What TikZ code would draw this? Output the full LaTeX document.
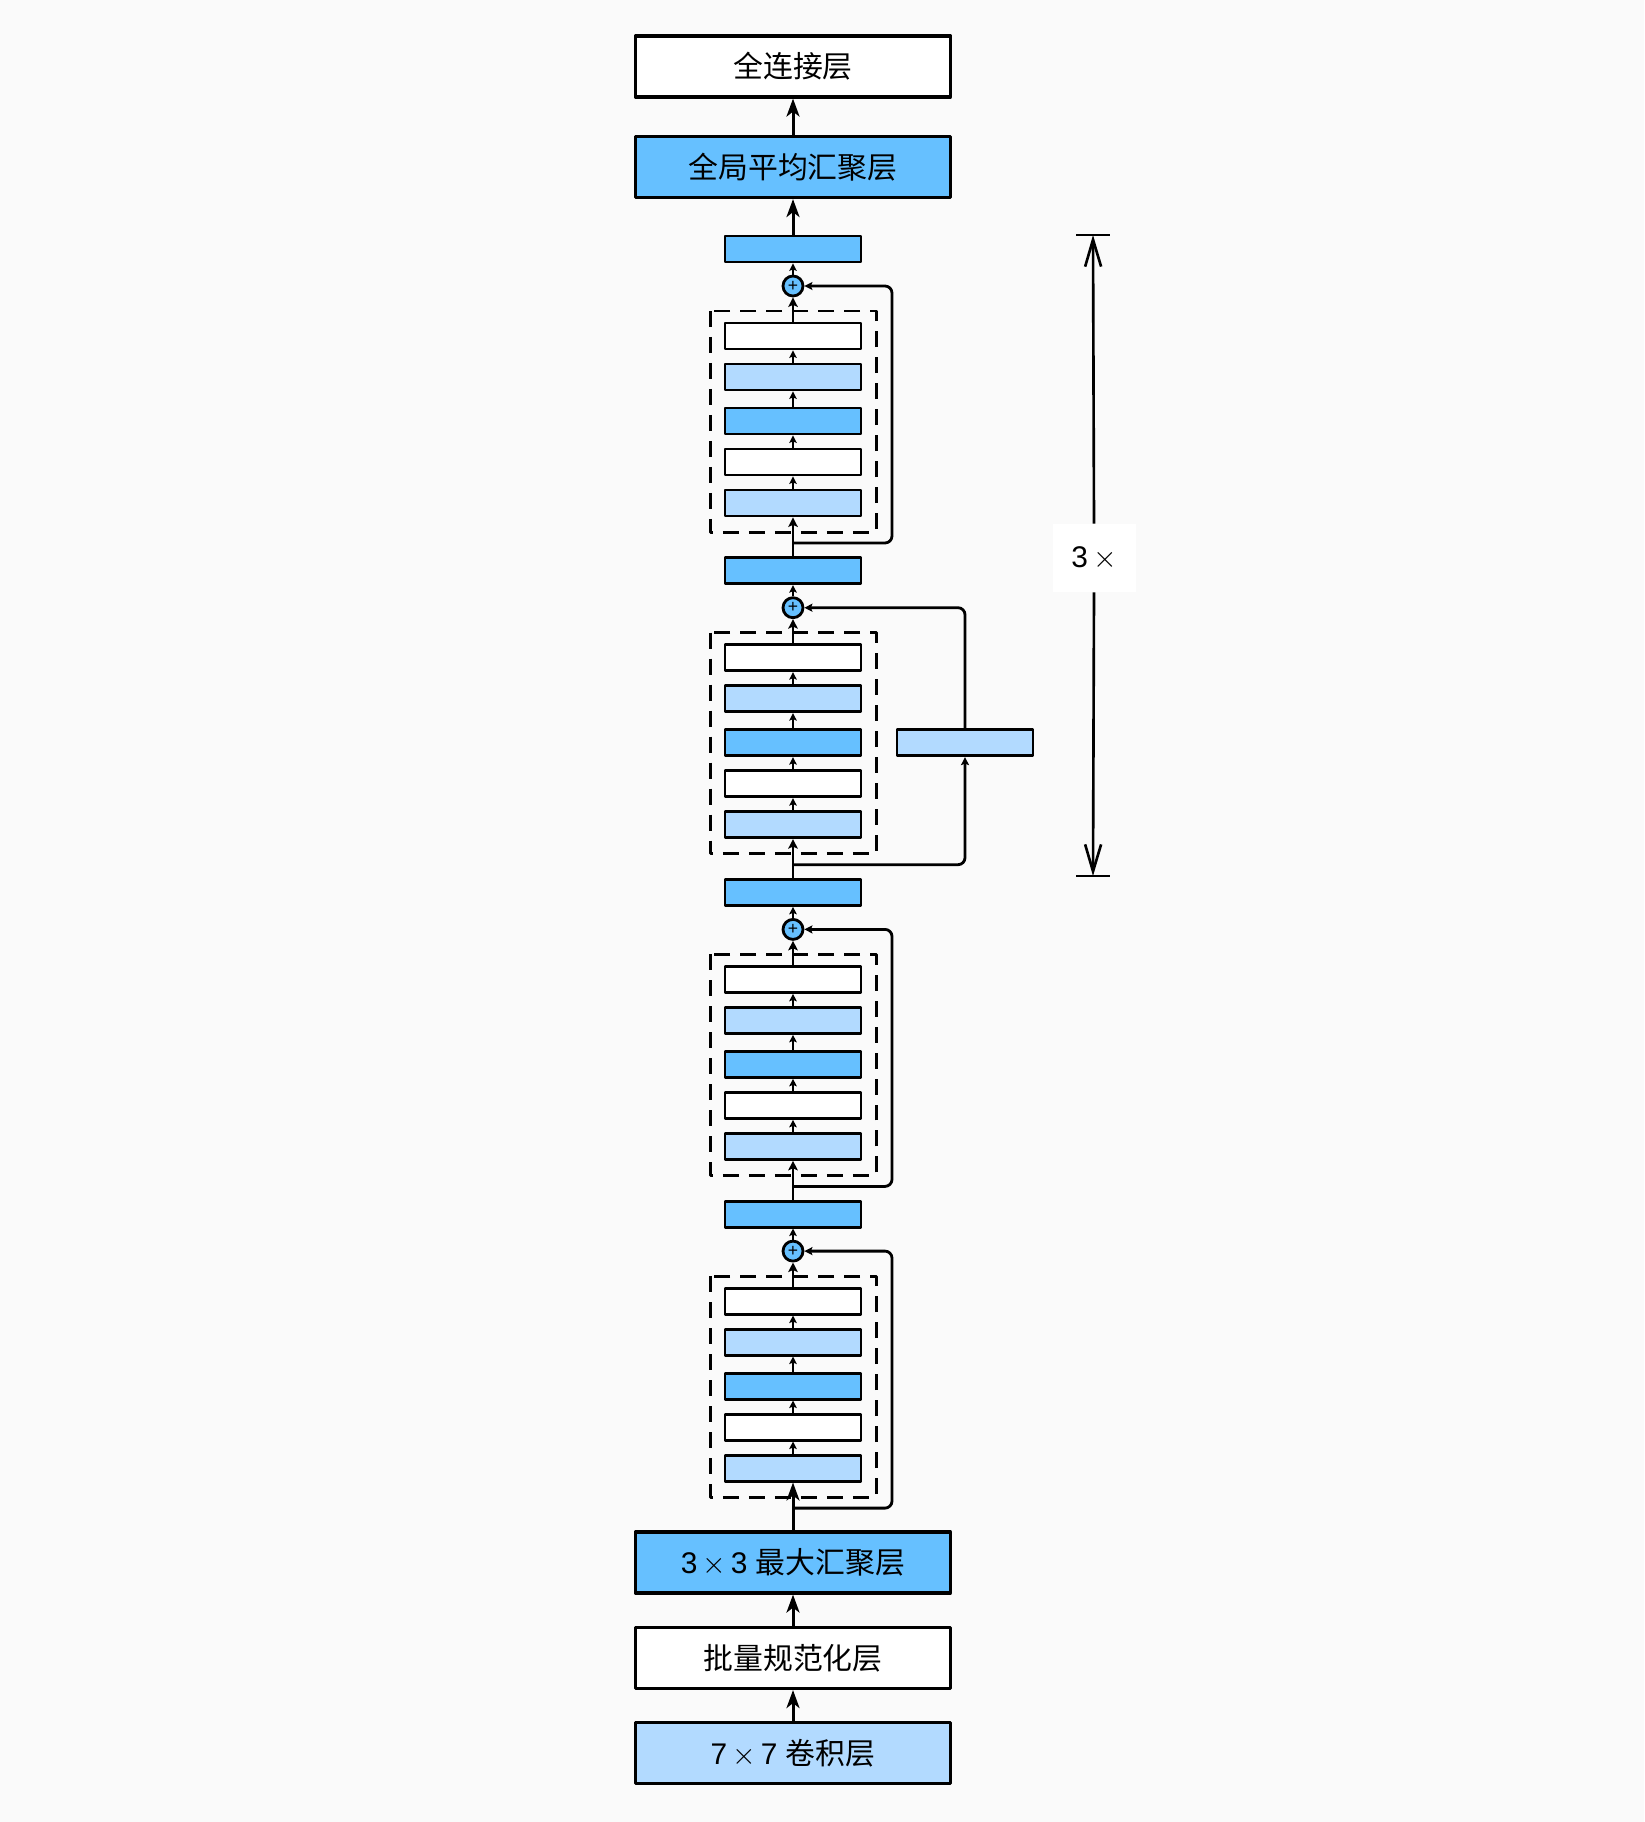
\documentclass[tikz,border=0pt]{standalone}
\usepackage{fontspec}
\setmainfont{Liberation Sans}
\newfontfamily\cjk{Noto Sans CJK SC}
\usetikzlibrary{arrows.meta,positioning}

\definecolor{bgcol}{RGB}{250,250,250}
\definecolor{dblue}{RGB}{102,192,255}
\definecolor{lblue}{RGB}{178,218,255}

\begin{document}
\begin{tikzpicture}[x=0.02cm,y=-0.02cm,line join=round,
  layer/.style={rectangle,draw,line width=1.8pt,minimum width=6.3cm,minimum height=1.22cm,inner sep=0pt,font=\fontsize{17}{20}\selectfont},
  unit/.style={rectangle,draw,line width=1.6pt,minimum width=2.72cm,minimum height=0.52cm,inner sep=0pt},
  addop/.style={circle,draw,line width=1.6pt,fill=dblue,minimum size=0.4cm,inner sep=0pt,font=\fontsize{10}{10}\selectfont},
  blockline/.style={line width=1.7pt,dash pattern=on 0.32cm off 0.2cm},
  bigarr/.style={line width=1.7pt,-{Stealth[length=0.36cm,width=0.26cm,inset=0.1cm]}},
  midarr/.style={line width=1.6pt,-{Stealth[length=0.19cm,width=0.19cm,inset=0.04cm]}},
  tinyarr/.style={line width=1.4pt,-{Stealth[length=0.15cm,width=0.15cm,inset=0.03cm]}},
  skiparr/.style={line width=1.6pt,rounded corners=0.14cm,-{Stealth[length=0.16cm,width=0.16cm,inset=0.03cm]}},
  barb/.style={line width=1.5pt,-{Straight Barb[length=0.54cm,width=0.32cm]}}]
\fill[bgcol] (0,0) rectangle (1644,1822);

% stem
\node[layer,fill=lblue] (conv) at (793,1753) {7\,\(\times\)\,7 \cjk 卷积层};
\node[layer,fill=white] (bn) at (793,1658) {\cjk 批量规范化层};
\node[layer,fill=dblue] (pool) at (793,1562.5) {3\,\(\times\)\,3 \cjk 最大汇聚层};

% head
\node[layer,fill=dblue] (gap) at (793,167) {\cjk 全局平均汇聚层};
\node[layer,fill=white] (fc) at (793,66.5) {\cjk 全连接层};

% residual blocks, top to bottom
\foreach \k in {0,...,3}{
  \pgfmathsetmacro{\off}{321.7*\k}
  \node[unit,fill=dblue] (bar\k) at (793,249+\off) {};
  \node[addop] (add\k) at (793,286+\off) {+};
  \draw[blockline] (710,311+\off) rectangle (876,532+\off);
  \node[unit,fill=white] (u\k1) at (793,336+\off) {};
  \node[unit,fill=lblue] (u\k2) at (793,377+\off) {};
  \node[unit,fill=dblue] (u\k3) at (793,421+\off) {};
  \node[unit,fill=white] (u\k4) at (793,462+\off) {};
  \node[unit,fill=lblue] (u\k5) at (793,503+\off) {};
  \coordinate (fork\k) at (793,543+\off);
}

% 1x1 conv on the second shortcut
\node[unit,fill=lblue] (proj) at (965,742.7) {};

\foreach \k/\src/\tip in {0/bar1/midarr,1/bar2/midarr,2/bar3/midarr,3/pool/bigarr}{
  \draw[\tip] (\src.north) -- (u\k5.south);
  \foreach \i/\j in {5/4,4/3,3/2,2/1}
    \draw[tinyarr] (u\k\i.north) -- (u\k\j.south);
  \draw[midarr] (u\k1.north) -- (add\k.south);
  \draw[tinyarr] (add\k.north) -- (bar\k.south);
}
\foreach \k in {0,2,3}
  \draw[skiparr] (fork\k) -- ++(99,0) |- (add\k);
\draw[skiparr] (fork1) -| (proj.south);
\draw[skiparr] (proj.north) |- (add1);

\draw[bigarr] (conv) -- (bn);
\draw[bigarr] (bn) -- (pool);
\draw[bigarr] (bar0) -- (gap);
\draw[bigarr] (gap) -- (fc);

% repeat marker
\coordinate (rtop) at (1093,235);
\coordinate (rbot) at (1093,876);
\node[fill=white,minimum width=1.66cm,minimum height=1.36cm,font=\fontsize{17}{20}\selectfont] (rep) at (1094,558) {3\,\(\times\)};
\draw[barb] (rep.north) -- (rtop);
\draw[barb] (rep.south) -- (rbot);
\draw[line width=1.5pt] ([xshift=-0.34cm]rtop) -- ([xshift=0.34cm]rtop);
\draw[line width=1.5pt] ([xshift=-0.34cm]rbot) -- ([xshift=0.34cm]rbot);
\end{tikzpicture}
\end{document}
